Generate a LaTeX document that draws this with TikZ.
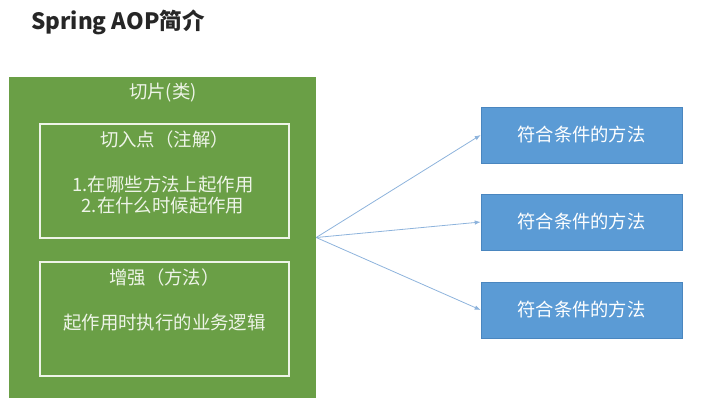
\documentclass[tikz,border=0pt]{standalone}
\usepackage{fontspec}
\setmainfont{Noto Sans CJK SC}
\usetikzlibrary{arrows.meta,positioning}

\definecolor{slicegreen}{HTML}{6A9F46}
\definecolor{methodblue}{HTML}{5B9BD5}
\definecolor{methodline}{HTML}{4A86BF}
\definecolor{arrowblue}{HTML}{8DB3DC}
\definecolor{palewhite}{HTML}{EEF4E8}

\tikzset{
    slicebox/.style={fill=slicegreen,inner sep=0pt,minimum width=307pt,minimum height=321pt},
    partbox/.style={draw=palewhite,line width=1.4pt,inner sep=0pt,minimum width=249pt,minimum height=114pt},
    methodbox/.style={fill=methodblue,draw=methodline,line width=0.6pt,inner sep=0pt,
        minimum width=201pt,minimum height=56pt,text=white,font=\fontsize{18.3}{21}\selectfont},
    greentext/.style={text=palewhite,font=\fontsize{18.4}{21}\selectfont,inner sep=0pt,align=center},
    linkarrow/.style={draw=arrowblue,line width=0.8pt,-{Latex[length=6pt,width=4.5pt]}}
}

\begin{document}
\begin{tikzpicture}[x=1pt,y=-1pt]
    \useasboundingbox (0,0) rectangle (705,408);
    % title
    \node[anchor=west,inner sep=0pt,font=\fontsize{22.5}{26}\selectfont\bfseries,text=black!85]
        (title) at (31,22) {Spring AOP简介};
    % the aspect with its two parts
    \node[slicebox] (slice) at (162.5,237.5) {};
    \node[greentext] (slicename) at (163,93) {切片(类)};
    \node[partbox] (pointcut) at (164.5,181) {};
    \node[greentext] (pointcutname) at (164.5,140) {切入点（注解）};
    \node[greentext] (pointcuttext) at (163,195.5) {1.在哪些方法上起作用\\2.在什么时候起作用};
    \node[partbox] (advice) at (164.5,319) {};
    \node[greentext] (advicename) at (164.5,278) {增强（方法）};
    \node[greentext] (advicetext) at (164.5,323) {起作用时执行的业务逻辑};
    % matched methods
    \node[methodbox] (methodA) at (581.5,135) {符合条件的方法};
    \node[methodbox] (methodB) at (581.5,222) {符合条件的方法};
    \node[methodbox] (methodC) at (581.5,310) {符合条件的方法};
    \draw[linkarrow] (slice.east) -- (methodA.west);
    \draw[linkarrow] (slice.east) -- (methodB.west);
    \draw[linkarrow] (slice.east) -- (methodC.west);
\end{tikzpicture}
\end{document}
